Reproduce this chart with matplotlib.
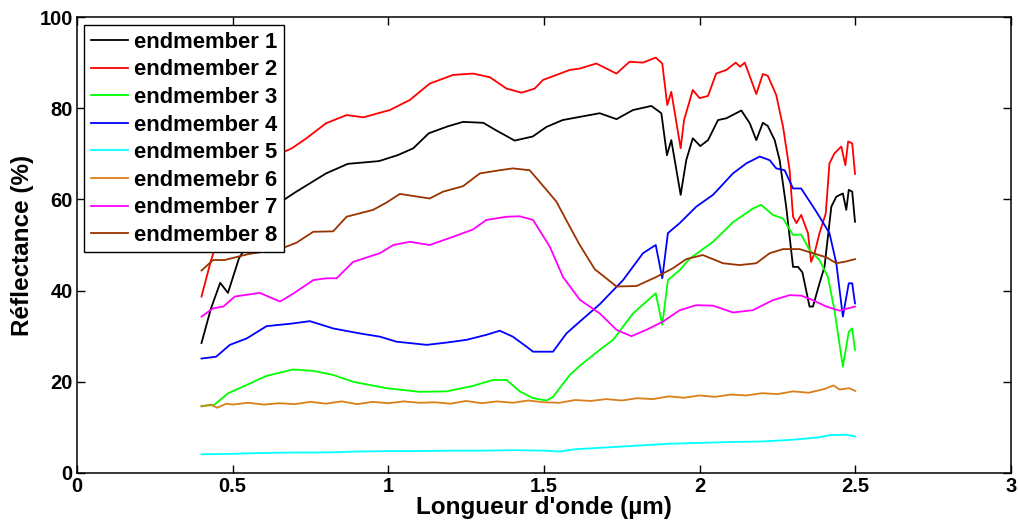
import matplotlib
matplotlib.use("Agg")
import matplotlib.pyplot as plt

plt.rcParams["font.family"] = ["Liberation Sans", "DejaVu Sans"]
plt.rcParams["font.weight"] = "bold"

# endmember spectra (wavelength in um, reflectance in %)
x1 = [0.40, 0.43, 0.46, 0.485, 0.52, 0.58, 0.64, 0.70, 0.80, 0.87, 0.97, 1.03, 1.08, 1.13, 1.19, 1.24,
      1.305, 1.345, 1.406, 1.464, 1.508, 1.56, 1.615, 1.679, 1.733, 1.786, 1.845, 1.877, 1.895, 1.909,
      1.939, 1.957, 1.978, 2.002, 2.027, 2.059, 2.086, 2.134, 2.161, 2.182, 2.203, 2.219, 2.241, 2.257,
      2.278, 2.300, 2.316, 2.33, 2.353, 2.364, 2.385, 2.401, 2.423, 2.439, 2.460, 2.471, 2.479, 2.490, 2.499]
y1 = [28.5, 36.0, 41.7, 39.5, 47.0, 54.0, 58.8, 61.5, 65.7, 67.8, 68.4, 69.7, 71.2, 74.5, 76.0, 77.0,
      76.8, 75.2, 72.9, 73.8, 75.9, 77.4, 78.1, 78.9, 77.6, 79.6, 80.5, 78.9, 69.7, 73.0,
      61.0, 68.6, 73.4, 71.7, 73.0, 77.4, 77.8, 79.5, 76.7, 73.0, 76.8, 76.1, 73.0, 68.6,
      58.4, 45.2, 45.2, 44.0, 36.5, 36.5, 41.6, 45.2, 58.4, 60.6, 61.3, 57.7, 62.1, 61.7, 55.1]

x2 = [0.40, 0.43, 0.47, 0.52, 0.58, 0.641, 0.69, 0.737, 0.80, 0.866, 0.92, 1.005, 1.069, 1.133, 1.208,
      1.272, 1.326, 1.38, 1.428, 1.47, 1.497, 1.583, 1.615, 1.668, 1.733, 1.775, 1.818, 1.859, 1.880,
      1.896, 1.909, 1.939, 1.95, 1.978, 2.0, 2.027, 2.053, 2.086, 2.116, 2.13, 2.145, 2.182, 2.203,
      2.219, 2.246, 2.268, 2.289, 2.30, 2.311, 2.326, 2.348, 2.358, 2.369, 2.385, 2.405, 2.417, 2.433,
      2.455, 2.468, 2.477, 2.490, 2.499]
y2 = [38.7, 46.5, 55.0, 62.0, 67.0, 69.7, 71.2, 73.4, 76.7, 78.5, 78.0, 79.6, 81.8, 85.4, 87.3,
      87.6, 86.8, 84.3, 83.4, 84.3, 86.2, 88.4, 88.7, 89.8, 87.6, 90.2, 90.0, 91.1, 89.8,
      80.7, 83.6, 71.2, 77.4, 84.0, 82.2, 82.7, 87.6, 88.4, 90.0, 89.1, 90.0, 83.1, 87.5,
      87.1, 82.9, 75.9, 66.4, 56.2, 54.8, 56.6, 52.6, 46.3, 48.2, 52.6, 56.9, 67.9, 70.1,
      71.6, 67.5, 72.7, 72.3, 65.6]

x3 = [0.40, 0.44, 0.486, 0.545, 0.609, 0.694, 0.759, 0.823, 0.887, 0.994, 1.101, 1.187, 1.272, 1.336,
      1.38, 1.422, 1.465, 1.508, 1.529, 1.583, 1.615, 1.679, 1.722, 1.786, 1.859, 1.880, 1.898, 1.936,
      1.968, 2.043, 2.107, 2.171, 2.198, 2.235, 2.268, 2.30, 2.326, 2.353, 2.385, 2.412, 2.433, 2.460,
      2.479, 2.490, 2.499]
y3 = [14.7, 14.9, 17.5, 19.3, 21.3, 22.7, 22.4, 21.5, 20.0, 18.6, 17.8, 17.9, 19.1, 20.4,
      20.4, 17.9, 16.4, 15.9, 16.7, 21.5, 23.5, 27.0, 29.2, 35.0, 39.4, 32.5, 42.3, 44.5,
      47.0, 50.7, 55.0, 58.0, 58.8, 56.6, 55.8, 52.2, 52.3, 48.9, 46.7, 43.0, 35.7, 23.3,
      31.0, 31.7, 27.0]

x4 = [0.40, 0.447, 0.491, 0.545, 0.609, 0.694, 0.748, 0.823, 0.909, 0.973, 1.026, 1.123, 1.187, 1.251,
      1.315, 1.358, 1.40, 1.444, 1.465, 1.529, 1.572, 1.615, 1.679, 1.754, 1.818, 1.859, 1.880, 1.898,
      1.936, 1.989, 2.043, 2.107, 2.15, 2.193, 2.225, 2.246, 2.273, 2.30, 2.326, 2.375, 2.417, 2.439,
      2.460, 2.479, 2.490, 2.499]
y4 = [25.1, 25.5, 28.1, 29.5, 32.2, 32.8, 33.3, 31.7, 30.6, 29.9, 28.8, 28.1, 28.6, 29.2,
      30.3, 31.2, 29.9, 27.7, 26.6, 26.6, 30.6, 33.2, 37.0, 42.3, 48.2, 50.0, 42.7, 52.6,
      54.8, 58.4, 61.0, 65.7, 67.9, 69.4, 68.6, 66.8, 66.4, 62.4, 62.4, 57.3, 52.6, 46.0,
      34.3, 41.6, 41.6, 37.2]

x5 = [0.40, 0.50, 0.60, 0.70, 0.80, 0.90, 1.00, 1.10, 1.20, 1.30, 1.40, 1.50, 1.55, 1.60, 1.70, 1.80,
      1.90, 2.00, 2.10, 2.20, 2.30, 2.38, 2.42, 2.47, 2.50]
y5 = [4.1, 4.2, 4.4, 4.5, 4.5, 4.7, 4.8, 4.8, 4.9, 4.9, 5.0, 4.9, 4.7, 5.2, 5.6, 6.0,
      6.4, 6.6, 6.8, 6.9, 7.3, 7.8, 8.3, 8.4, 8.0]

x6 = [0.40, 0.43, 0.45, 0.48, 0.50, 0.55, 0.60, 0.65, 0.70, 0.75, 0.80, 0.85, 0.90, 0.95, 1.00, 1.05,
      1.10, 1.15, 1.20, 1.25, 1.30, 1.35, 1.40, 1.45, 1.50, 1.55, 1.60, 1.65, 1.70, 1.75, 1.80, 1.85,
      1.90, 1.95, 2.00, 2.05, 2.10, 2.15, 2.20, 2.25, 2.30, 2.35, 2.40, 2.43, 2.45, 2.48, 2.50]
y6 = [14.6, 15.0, 14.3, 15.2, 15.0, 15.4, 15.0, 15.3, 15.1, 15.6, 15.2, 15.7, 15.1, 15.6, 15.3, 15.7,
      15.4, 15.5, 15.2, 15.8, 15.3, 15.7, 15.4, 15.9, 15.5, 15.4, 16.0, 15.8, 16.2, 15.9, 16.4, 16.2,
      16.8, 16.5, 17.0, 16.7, 17.2, 17.0, 17.5, 17.3, 17.9, 17.6, 18.4, 19.2, 18.3, 18.6, 18.0]

x7 = [0.40, 0.437, 0.47, 0.507, 0.587, 0.652, 0.694, 0.759, 0.80, 0.834, 0.887, 0.973, 1.016, 1.069,
      1.133, 1.208, 1.272, 1.315, 1.38, 1.422, 1.465, 1.519, 1.561, 1.615, 1.679, 1.733, 1.781, 1.829,
      1.882, 1.936, 1.989, 2.043, 2.107, 2.171, 2.235, 2.289, 2.326, 2.364, 2.407, 2.449, 2.499]
y7 = [34.3, 36.1, 36.5, 38.7, 39.5, 37.6, 39.3, 42.3, 42.7, 42.7, 46.3, 48.2, 50.0, 50.7,
      50.0, 51.8, 53.4, 55.5, 56.2, 56.3, 55.5, 49.6, 43.0, 38.0, 35.0, 31.4, 30.0, 31.4,
      33.2, 35.7, 36.8, 36.7, 35.2, 35.7, 37.9, 39.0, 38.9, 37.9, 36.5, 35.6, 36.5]

x8 = [0.40, 0.437, 0.474, 0.55, 0.652, 0.705, 0.759, 0.823, 0.866, 0.951, 0.994, 1.037, 1.133, 1.176,
      1.24, 1.294, 1.358, 1.40, 1.454, 1.508, 1.54, 1.583, 1.615, 1.663, 1.733, 1.797, 1.861, 1.914,
      1.957, 2.01, 2.075, 2.128, 2.182, 2.225, 2.268, 2.321, 2.364, 2.407, 2.439, 2.471, 2.499]
y8 = [44.4, 46.7, 46.7, 48.0, 49.1, 50.5, 52.9, 53.0, 56.2, 57.7, 59.3, 61.2, 60.2, 61.7,
      62.9, 65.7, 66.4, 66.8, 66.4, 62.1, 59.5, 54.0, 50.0, 44.7, 40.9, 41.0, 43.0, 44.9,
      46.9, 47.8, 46.0, 45.6, 46.0, 48.2, 49.1, 49.1, 48.2, 47.3, 46.0, 46.4, 46.9]

labels = ["endmember 1", "endmember 2", "endmember 3", "endmember 4",
          "endmember 5", "endmemebr 6", "endmember 7", "endmember 8"]
colors = ["#000000", "#ff0000", "#00ff00", "#0000ff", "#00ffff", "#d98019", "#ff00ff", "#993300"]

series = [(x1, y1), (x2, y2), (x3, y3), (x4, y4), (x5, y5), (x6, y6), (x7, y7), (x8, y8)]

fig = plt.figure(figsize=(10.18, 5.27), dpi=100)
ax = fig.add_axes([0.0756, 0.1025, 0.9175, 0.8652])

for (xs, ys), lab, col in zip(series, labels, colors):
    ax.plot(xs, ys, color=col, lw=1.3, label=lab)

ax.set_xlim(0, 3)
ax.set_ylim(0, 100)
ax.set_xticks([0, 0.5, 1, 1.5, 2, 2.5, 3])
ax.set_xticklabels(["0", "0.5", "1", "1.5", "2", "2.5", "3"])
ax.set_yticks([0, 20, 40, 60, 80, 100])
ax.tick_params(direction="in", length=6, width=1, top=True, right=True, labelsize=14.5, pad=3)
for lbl in ax.get_xticklabels() + ax.get_yticklabels():
    lbl.set_fontweight("bold")
for s in ax.spines.values():
    s.set_linewidth(1.1)

ax.set_xlabel("Longueur d'onde (µm)", fontsize=17.5, fontweight="bold", labelpad=0)
ax.set_ylabel("Réflectance (%)", fontsize=17.5, fontweight="bold", labelpad=4)

leg = ax.legend(loc="upper left", bbox_to_anchor=(0.008, 0.982), frameon=True,
                fancybox=False, framealpha=1, edgecolor="black", handlelength=1.7,
                labelspacing=0.3, borderpad=0.3, handletextpad=0.25, borderaxespad=0,
                prop={"weight": "bold", "size": 15.8})
leg.get_frame().set_linewidth(1.0)

fig.savefig("out.png", dpi=100)
